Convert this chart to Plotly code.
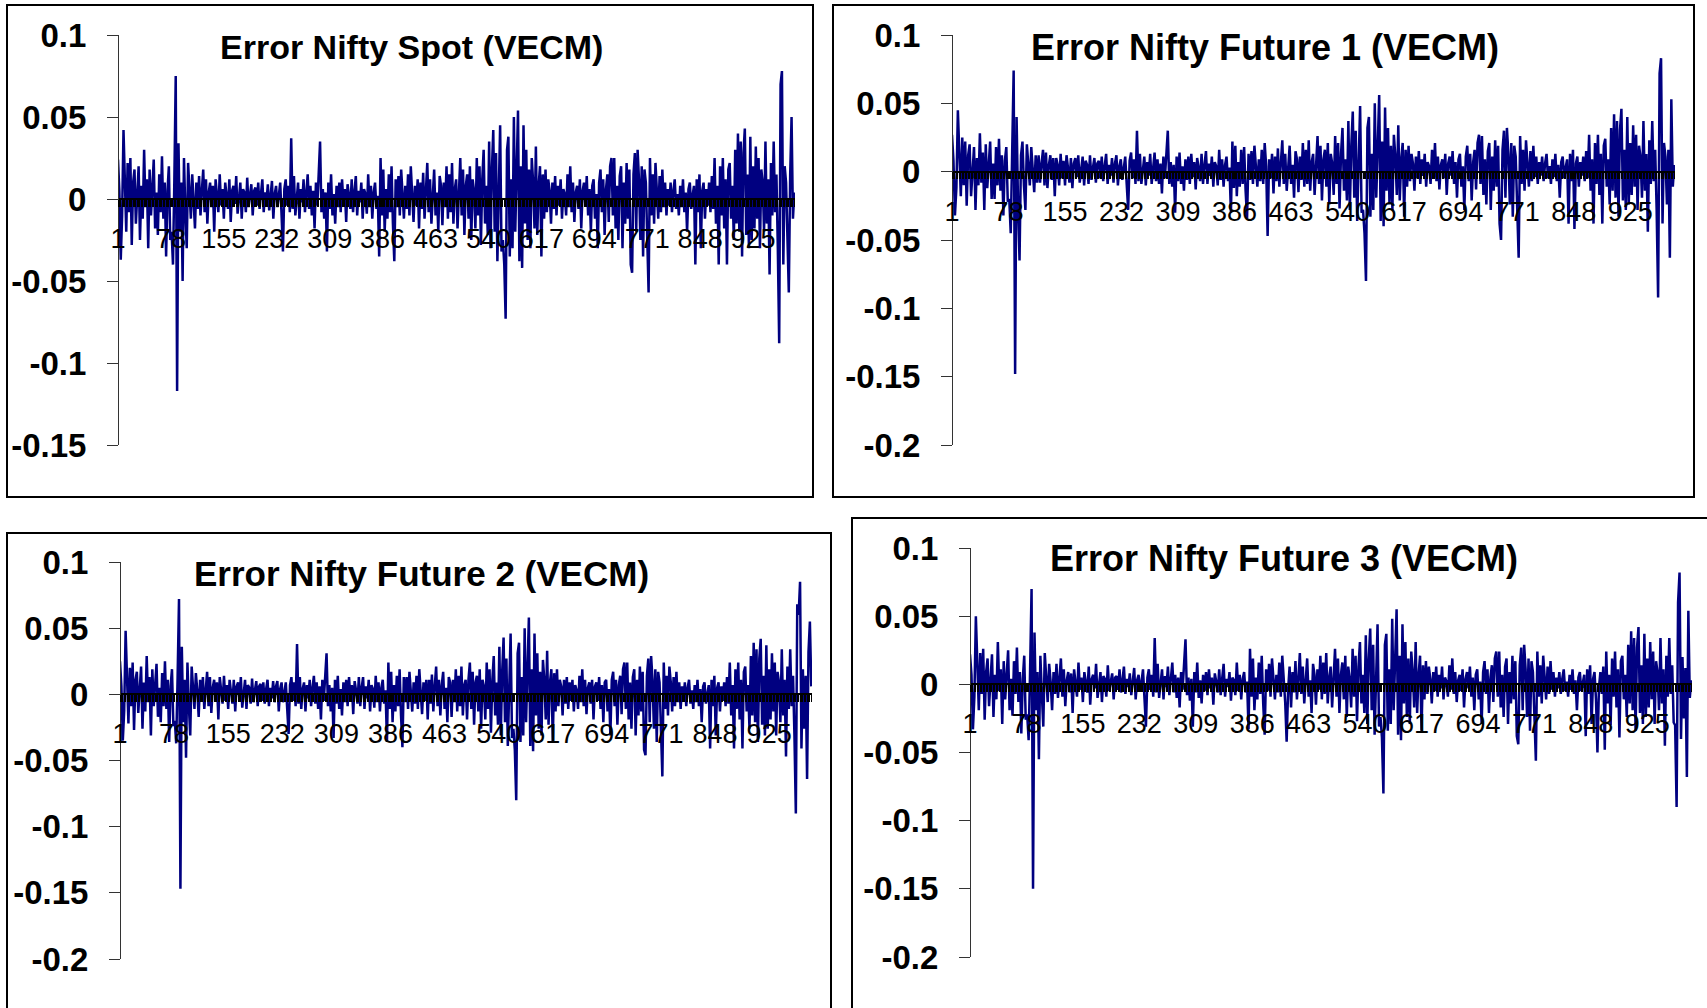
import plotly.graph_objects as go

# ---------------- data (values in units of 0.001, one point every 2nd observation) -------------
X_TICK_LABELS = ["1", "78", "155", "232", "309", "386", "463", "540", "617", "694", "771", "848", "925"]
X_TICK_VALUES = [1, 78, 155, 232, 309, 386, 463, 540, 617, 694, 771, 848, 925]
N_OBS = 986
STEP = 2

spot_vecm = [
    24, 5, -37, -10, 42, 15, -20, 22, -8, 25,
    -28, 10, 18, -15, 3, 20, -25, 8, -12, 30,
    -5, 12, -30, 18, -10, 6, 24, -18, 4, -22,
    15, -8, 26, -12, 10, -35, 5, 20, -25, -20,
    -40, 12, 75, -117, 34, -20, 10, -50, 25, -8,
    -30, 22, 6, -12, 15, 2, -18, 10, -6, 14,
    -10, 5, 18, -8, 12, -15, 4, 10, -5, 8,
    -20, 12, 3, -8, 15, -4, 6, -12, 10, 2,
    -6, 12, -14, 5, 8, -3, 14, -9, 2, 10,
    -12, 6, 4, -8, 13, -5, 2, 9, -10, 5,
    7, -4, 10, -6, 3, 12, -8, 4, -2, 9,
    -7, 5, 11, -12, 3, 8, -5, 2, 10, -10,
    -32, 6, 12, -4, 8, -8, 37, -6, 14, -10,
    3, 10, -12, 6, -2, 12, -8, 4, 15, -6,
    8, -10, 5, -18, 10, -4, 12, 35, -8, 6,
    -12, 4, -32, 10, -6, 15, -10, 3, -15, 8,
    -5, 10, -8, 12, -3, 6, -14, 9, 2, -6,
    12, -8, 4, 14, -10, 5, -2, 10, -12, 6,
    3, -9, 15, -5, 8, -12, 4, 10, -6, 2,
    -35, 25, -10, 18, -20, 6, -12, 15, -8, 20,
    -15, -38, 12, -5, 14, -10, 18, 4, -12, 8,
    -6, 15, -10, 20, 3, -14, 8, -4, 12, -18,
    10, -6, 16, -12, 5, 22, -8, 12, -15, 6,
    18, -10, 4, -20, 14, 8, -16, 10, -5, 20,
    -12, 15, -8, 22, -15, 6, 12, -18, 10, 25,
    -10, 18, -22, 8, 15, -12, 20, -25, 12, 5,
    -18, 25, -10, 20, -28, 12, 30, -15, 8, -22,
    35, -30, 18, 42, -20, 28, -38, 10, 45, -32,
    -25, -40, -73, 30, 38, -35, 12, -30, 50, -20,
    28, 54, -38, 20, -42, 45, -15, 30, -25, 18,
    -30, 25, 10, -18, 32, -22, 8, 20, -35, 15,
    -12, 18, -8, 12, 5, -15, 10, -6, 14, -10,
    8, -4, 12, -12, 6, 3, -10, 15, -5, 20,
    -8, 10, -14, 4, 8, -6, 12, -18, 5, 10,
    -4, 14, -10, 6, -20, 8, 12, -12, 3, -30,
    10, 18, -8, 12, -22, 6, 15, -14, 20, 25,
    -10, 25, -18, 8, -25, 14, 20, -30, 10, -15,
    22, -12, 18, -40, -45, 15, 28, -20, 30, 12,
    -25, 20, -35, 18, 10, -20, -57, 25, -10, 15,
    -15, 22, 8, -12, 14, -8, 18, -5, 10, -10,
    6, -4, 10, -8, 5, 12, -6, 3, -10, 8,
    -5, 12, -8, 4, -20, 6, 10, -6, 2, 8,
    -40, 12, -8, 15, -30, 5, 10, -12, 6, -4,
    10, -8, 14, -6, 25, -15, 8, -40, 20, -10,
    25, -18, 12, -40, 18, 22, -12, 8, -25, 30,
    -15, 40, -20, 35, -35, 28, 43, -22, 15, -30,
    38, -25, 20, -18, 32, -12, 25, -30, 18, 10,
    -20, 35, -15, 12, -46, 22, -10, 35, -8, 15,
    -30, -88, 70, 78, -40, 20, 10, -25, -57, 15,
    50, -12, 4,
]

future1_vecm = [
    27, 8, -32, -12, 45, 12, -18, 25, -10, 22,
    -25, 12, 20, -18, 5, 18, -28, 10, -10, 28,
    -8, 14, -28, 20, -12, 8, 22, -20, 6, -20,
    18, -10, 24, -14, 12, -32, 8, 18, -22, -20,
    -45, 15, 74, -148, 40, -25, -65, 12, 22, -10,
    -28, 20, 8, -10, 18, 4, -15, 12, -8, 12,
    -8, 6, 16, -10, 14, -12, 5, 12, -6, 10,
    -18, 10, 5, -10, 13, -5, 8, -10, 12, 3,
    -8, 10, -12, 6, 10, -4, 12, -8, 4, 11,
    -10, 8, 5, -9, 12, -6, 3, 10, -8, 6,
    8, -5, 11, -7, 4, 13, -9, 5, -3, 10,
    -8, 6, 12, -10, 4, 9, -6, 3, 11, -9,
    -28, 8, 14, -5, 9, -9, 30, -7, 13, -9,
    4, 11, -10, 7, -3, 13, -9, 5, 14, -7,
    9, -9, 6, -16, 11, -5, 13, 30, -9, 7,
    -11, 5, -30, 11, -7, 14, -9, 4, -14, 9,
    -6, 11, -9, 13, -4, 7, -13, 10, 3, -7,
    13, -9, 5, 15, -9, 6, -3, 11, -11, 7,
    4, -10, 16, -6, 9, -11, 5, 11, -7, 3,
    -30, 22, -12, 19, -18, 7, -11, 16, -9, 18,
    -14, -34, 13, -6, 15, -9, 19, 5, -11, 9,
    -7, 16, -9, 21, 4, -47, 9, -5, 13, -16,
    11, -7, 17, -11, 6, 23, -9, 13, -14, 7,
    19, -9, 5, -19, 15, 9, -15, 11, -6, 21,
    -11, 16, -9, 23, -14, 7, 13, -17, 11, 26,
    -9, 19, -21, 9, 16, -11, 21, -24, 13, 6,
    -17, 26, -9, 21, -27, 13, 32, -14, 9, -21,
    37, -28, 19, 44, -19, 30, -36, 11, 48, -30,
    -28, -45, -80, 32, 40, -33, 13, -28, 50, -19,
    30, 56, -36, 22, -40, 47, -14, 32, -24, 19,
    -28, 27, 11, -17, 34, -21, 9, 21, -33, 16,
    -11, 19, -7, 13, 6, -14, 11, -5, 15, -9,
    9, -3, 13, -11, 7, 4, -9, 16, -4, 21,
    -7, 11, -13, 5, 9, -5, 13, -17, 6, 11,
    -3, 15, -9, 7, -19, 9, 13, -11, 4, -28,
    11, 19, -7, 13, -21, 7, 16, -13, 21, 27,
    -9, 26, -17, 9, -24, 15, 21, -28, 11, -14,
    23, -11, 19, -38, -50, 16, 30, -19, 32, 13,
    -24, 21, -33, 19, 11, -19, -63, 26, -9, 16,
    -14, 23, 9, -11, 15, -7, 19, -4, 11, -9,
    7, -3, 11, -7, 6, 13, -5, 4, -9, 9,
    -4, 13, -7, 5, -19, 7, 11, -5, 3, 9,
    -38, 13, -7, 16, -42, 6, 11, -11, 7, -3,
    11, -7, 15, -5, 27, -14, 9, -38, 21, -9,
    27, -17, 13, -38, 19, 24, -11, 9, -24, 32,
    -14, 42, -19, 37, -33, 30, 46, -21, 16, -28,
    40, -24, 21, -17, 34, -11, 27, -28, 19, 11,
    -19, 37, -14, 13, -44, 23, -9, 37, -7, 16,
    -28, -92, 72, 83, -38, 21, 11, -24, 16, -63,
    53, -11, 5,
]

future2_vecm = [
    25, 6, -35, -12, 48, 14, -22, 20, -9, 24,
    -27, 11, 17, -14, 4, 21, -26, 9, -13, 29,
    -6, 13, -31, 19, -9, 7, 23, -17, 5, -21,
    16, -9, 25, -11, 11, -36, 6, 19, -24, -20,
    -37, 13, 72, -147, 36, -21, 11, -48, 24, -9,
    -31, 21, 7, -11, 16, 3, -17, 11, -5, 13,
    -11, 6, 17, -9, 13, -14, 5, 11, -4, 9,
    -19, 13, 4, -7, 14, -5, 7, -11, 11, 3,
    -7, 11, -13, 6, 9, -4, 13, -10, 3, 11,
    -11, 7, 5, -7, 12, -6, 3, 10, -9, 6,
    8, -5, 9, -7, 4, 11, -9, 5, -3, 10,
    -6, 6, 10, -13, 4, 9, -6, 3, 9, -11,
    -30, 7, 13, -5, 9, -9, 38, -7, 13, -11,
    4, 9, -13, 7, -3, 11, -9, 5, 14, -7,
    9, -11, 6, -19, 11, -5, 13, 31, -9, 7,
    -13, 5, -33, 11, -7, 14, -11, 4, -16, 9,
    -6, 11, -9, 13, -4, 7, -15, 10, 3, -7,
    13, -9, 5, 13, -11, 6, -3, 11, -13, 7,
    4, -10, 14, -6, 9, -13, 5, 11, -7, 3,
    -36, 24, -11, 17, -21, 7, -13, 14, -9, 19,
    -16, -40, 13, -6, 13, -11, 17, 5, -13, 9,
    -7, 14, -11, 19, 4, -15, 9, -5, 11, -19,
    11, -7, 15, -13, 6, 21, -9, 11, -16, 7,
    17, -11, 5, -21, 13, 9, -17, 11, -6, 19,
    -13, 14, -9, 21, -16, 7, 11, -19, 11, 24,
    -11, 17, -23, 9, 14, -13, 19, -26, 11, 6,
    -19, 24, -11, 19, -29, 11, 29, -16, 9, -23,
    36, -31, 17, 43, -21, 27, -39, 11, 46, -33,
    -26, -42, -80, 31, 39, -36, 13, -31, 50, -21,
    27, 58, -39, 19, -43, 46, -16, 31, -26, 17,
    -31, 26, 11, -19, 33, -23, 9, 19, -36, 16,
    -13, 19, -9, 11, 6, -16, 11, -7, 13, -11,
    9, -5, 11, -13, 7, 3, -11, 14, -6, 19,
    -9, 11, -15, 5, 9, -7, 11, -19, 6, 9,
    -5, 13, -11, 7, -21, 9, 11, -13, 4, -31,
    11, 17, -9, 11, -23, 7, 14, -15, 19, 24,
    -11, 24, -19, 9, -26, 13, 19, -31, 11, -16,
    21, -13, 17, -42, -46, 14, 27, -21, 29, 11,
    -26, 19, -36, 17, 9, -21, -62, 24, -11, 14,
    -16, 21, 9, -13, 13, -9, 17, -6, 9, -11,
    6, -5, 9, -9, 5, 11, -7, 3, -11, 7,
    -6, 11, -9, 4, -21, 6, 9, -7, 2, 7,
    -41, 11, -9, 14, -31, 5, 9, -13, 6, -5,
    9, -9, 13, -7, 24, -16, 7, -41, 19, -11,
    24, -19, 11, -41, 17, 21, -13, 7, -26, 29,
    -16, 39, -21, 34, -36, 27, 42, -23, 14, -31,
    37, -26, 19, -19, 31, -13, 24, -31, 17, 9,
    -21, 34, -16, 11, -47, 21, -11, 34, -9, 14,
    -31, -90, 68, 60, 85, -41, 19, -26, 14, -64,
    32, 55, 6,
]

future3_vecm = [
    22, 7, -33, -9, 50, 13, -19, 23, -7, 26,
    -26, 9, 19, -16, 4, 22, -24, 7, -11, 31,
    -5, 11, -29, 17, -11, 6, 25, -19, 4, -23,
    17, -7, 27, -13, 9, -36, 4, 21, -26, -22,
    -41, 11, 70, -150, 38, -19, 9, -55, 21, -7,
    -31, 23, 6, -13, 15, 2, -19, 9, -7, 15,
    -10, 4, 19, -9, 11, -16, 3, 9, -6, 8,
    -21, 11, 3, -9, 16, -4, 5, -13, 9, 2,
    -6, 13, -15, 4, 7, -3, 15, -10, 2, 9,
    -13, 6, 4, -9, 14, -5, 2, 8, -11, 5,
    6, -4, 11, -6, 3, 13, -7, 4, -2, 8,
    -8, 5, 12, -11, 3, 7, -5, 2, 11, -10,
    -31, 5, 11, -4, 7, -9, 34, -6, 15, -10,
    3, 11, -11, 6, -2, 13, -8, 4, 16, -6,
    7, -10, 5, -17, 9, -4, 11, 33, -8, 5,
    -12, 4, -31, 9, -6, 16, -10, 3, -14, 7,
    -5, 9, -8, 11, -3, 5, -15, 8, 2, -6,
    11, -8, 4, 15, -9, 4, -2, 9, -12, 5,
    3, -8, 16, -5, 7, -11, 4, 9, -6, 2,
    -33, 26, -9, 19, -19, 5, -11, 16, -7, 21,
    -14, -37, 11, -5, 15, -9, 19, 4, -11, 7,
    -6, 16, -9, 21, 3, -13, -42, -4, 13, -17,
    9, -6, 17, -11, 4, 23, -7, 13, -14, 5,
    19, -9, 3, -21, 15, 7, -15, 11, -4, 21,
    -11, 16, -7, 23, -14, 5, 13, -17, 9, 26,
    -9, 19, -21, 7, 16, -11, 21, -24, 13, 4,
    -17, 26, -9, 21, -27, 13, 31, -14, 7, -21,
    36, -29, 19, 41, -19, 29, -37, 9, 44, -31,
    -24, -39, -80, 29, 37, -34, 11, -29, 48, -19,
    29, 55, -37, 21, -41, 44, -14, 31, -24, 19,
    -29, 24, 9, -17, 31, -21, 7, 21, -34, 14,
    -11, 17, -7, 13, 4, -14, 9, -5, 13, -9,
    7, -3, 13, -11, 5, 2, -9, 14, -4, 19,
    -7, 9, -13, 3, 7, -5, 11, -17, 4, 9,
    -3, 13, -9, 5, -19, 7, 11, -11, 2, -29,
    9, 17, -7, 11, -21, 5, 14, -13, 19, 24,
    -9, 24, -17, 7, -24, 13, 19, -29, 9, -14,
    21, -11, 17, -38, -44, 14, 27, -19, 29, 11,
    -24, 19, -34, 17, 9, -19, -56, 24, -9, 14,
    -14, 21, 7, -11, 13, -7, 17, -4, 9, -9,
    5, -3, 9, -7, 4, 11, -5, 2, -9, 7,
    -4, 11, -7, 3, -19, 5, 9, -5, 1, 7,
    -38, 11, -7, 14, -29, 4, 9, -11, -50, -3,
    9, -7, 13, -48, 24, -14, 7, -30, 19, -9,
    24, -17, 11, -39, 17, 21, -11, 7, -24, 29,
    -14, 39, -19, 34, -34, 27, 42, -21, 14, -29,
    37, -24, 19, -17, 31, -11, 24, -29, 17, 9,
    -19, 34, -14, 11, -45, 21, -9, 34, -7, 14,
    -28, -30, -90, 60, 82, -40, 20, -25, 12, -68,
    54, -10, 3,
]

Y_TICKS_SPOT = [0.1, 0.05, 0, -0.05, -0.1, -0.15]
Y_LABELS_SPOT = ["0.1", "0.05", "0", "-0.05", "-0.1", "-0.15"]
Y_TICKS_FUT = [0.1, 0.05, 0, -0.05, -0.1, -0.15, -0.2]
Y_LABELS_FUT = ["0.1", "0.05", "0", "-0.05", "-0.1", "-0.15", "-0.2"]

TITLES = ["Error Nifty Spot (VECM)", "Error Nifty Future 1 (VECM)",
          "Error Nifty Future 2 (VECM)", "Error Nifty Future 3 (VECM)"]

# ---------------- layout geometry (pixels) ----------------
W, H = 1707, 1008
FONT = "Liberation Sans, Arial, Helvetica, sans-serif"
LINE_BLUE = "#000080"


def fx(p):
    return p / W


def fy(p):
    return 1 - p / H


panels = [
    dict(series=spot_vecm, yt=Y_TICKS_SPOT, yl=Y_LABELS_SPOT, yr=(-0.15, 0.1),
         xpx=(118, 795), ypx=(35, 445), box=(7, 5, 813, 497),
         title=TITLES[0], tpos=(411, 47), tsize=34),
    dict(series=future1_vecm, yt=Y_TICKS_FUT, yl=Y_LABELS_FUT, yr=(-0.2, 0.1),
         xpx=(952, 1675), ypx=(35, 445), box=(833, 5, 1694, 497),
         title=TITLES[1], tpos=(1265, 47), tsize=36),
    dict(series=future2_vecm, yt=Y_TICKS_FUT, yl=Y_LABELS_FUT, yr=(-0.2, 0.1),
         xpx=(120, 812), ypx=(562, 959), box=(7, 533, 831, 1020),
         title=TITLES[2], tpos=(421, 573), tsize=35),
    dict(series=future3_vecm, yt=Y_TICKS_FUT, yl=Y_LABELS_FUT, yr=(-0.2, 0.1),
         xpx=(970, 1692), ypx=(548, 957), box=(852, 518, 1720, 1020),
         title=TITLES[3], tpos=(1284, 558), tsize=36),
]

fig = go.Figure()
shapes = []
annotations = []
layout_axes = {}

for k, p in enumerate(panels, start=1):
    xa = "x" if k == 1 else f"x{k}"
    ya = "y" if k == 1 else f"y{k}"
    vals = [v / 1000 for v in p["series"]]
    xs = list(range(1, 1 + STEP * len(vals), STEP))
    fig.add_trace(go.Scatter(x=xs, y=vals, mode="lines", xaxis=xa, yaxis=ya,
                             line=dict(color=LINE_BLUE, width=2.5), showlegend=False,
                             hoverinfo="skip"))
    ylo, yhi = p["yr"]
    top_px, bot_px = p["ypx"]
    ydom = [fy(bot_px), fy(top_px)]
    zero_px = top_px + (yhi - 0) / (yhi - ylo) * (bot_px - top_px)
    xdom = [fx(p["xpx"][0]), fx(p["xpx"][1])]

    layout_axes["xaxis" if k == 1 else f"xaxis{k}"] = dict(
        domain=xdom, range=[1, N_OBS], anchor="free", position=fy(zero_px),
        automargin=False,
        showline=True, linecolor="black", linewidth=1.5,
        tickmode="array", tickvals=X_TICK_VALUES, ticktext=X_TICK_LABELS,
        ticks="outside", ticklen=7, tickcolor="black", tickwidth=1,
        minor=dict(ticks="outside", tickmode="linear", dtick=2, tick0=1, ticklen=7,
                   tickcolor="black", tickwidth=1),
        tickangle=0, ticklabelstandoff=9,
        tickfont=dict(family=FONT, size=27, color="black"),
        showgrid=False, zeroline=False, fixedrange=True,
    )
    layout_axes["yaxis" if k == 1 else f"yaxis{k}"] = dict(
        domain=ydom, range=[ylo, yhi], anchor="free", position=xdom[0],
        automargin=False,
        showline=True, linecolor="#333333", linewidth=1,
        tickmode="array", tickvals=p["yt"], ticktext=p["yl"],
        ticks="outside", ticklen=11, tickcolor="#333333", tickwidth=1,
        ticklabelstandoff=14,
        tickfont=dict(family=FONT, size=33, color="black", weight="bold"),
        showgrid=False, zeroline=False, fixedrange=True,
    )
    x0, y0, x1, y1 = p["box"]
    shapes.append(dict(type="rect", xref="paper", yref="paper",
                       x0=fx(x0), x1=fx(x1), y0=fy(y1), y1=fy(y0),
                       line=dict(color="black", width=2), fillcolor="rgba(0,0,0,0)"))
    annotations.append(dict(text=p["title"], xref="paper", yref="paper",
                            x=fx(p["tpos"][0]), y=fy(p["tpos"][1]),
                            xanchor="center", yanchor="middle", showarrow=False,
                            font=dict(family=FONT, size=p["tsize"], color="black", weight="bold")))

fig.update_layout(
    width=W, height=H, margin=dict(l=0, r=0, t=0, b=0, autoexpand=False),
    paper_bgcolor="white", plot_bgcolor="white",
    shapes=shapes, annotations=annotations, showlegend=False,
    **layout_axes,
)

fig.write_html("out.html", config={"displayModeBar": False},
               post_script="document.body.style.margin='0';document.body.style.overflow='hidden';")
